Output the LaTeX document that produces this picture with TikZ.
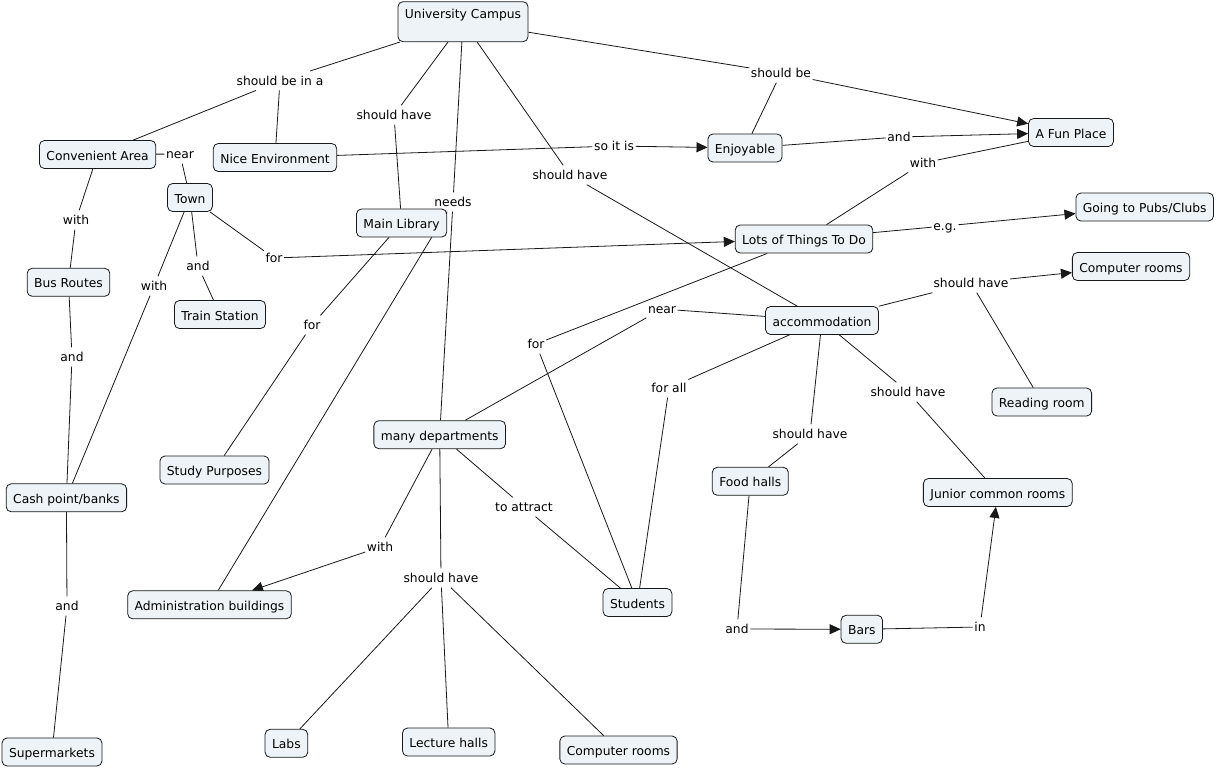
\documentclass[tikz,border=0pt]{standalone}
\usepackage{fontspec}
\setmainfont{DejaVu Sans}
\usetikzlibrary{arrows.meta}
\pgfdeclarelayer{bg}
\pgfsetlayers{bg,main}
\definecolor{cfill}{RGB}{237,243,246}
\tikzset{
 concept/.style={draw=black!90, fill=cfill, rounded corners=5pt, line width=0.8pt,
   inner xsep=7pt, inner ysep=0pt, minimum height=28pt, text height=12pt, text depth=1pt},
 lp/.style={inner xsep=1.5pt, inner ysep=3pt, text height=11pt, text depth=2pt},
 link/.style={line width=0.8pt, draw=black!90},
 arr/.style={link, -{Triangle[length=11pt,width=10pt]}},
}
\begin{document}
\begin{tikzpicture}[x=1pt,y=-1pt,font=\fontsize{12.3}{14}\selectfont]
\useasboundingbox (0,0) rectangle (1216,769);
% concepts
\node[concept, text height=12.6pt, text depth=19.4pt, inner ysep=4pt] (univ) at (463,21.7) {University Campus};
\node[concept] (conv) at (97.6,154.5) {Convenient Area};
\node[concept] (nice) at (275,157.5) {Nice Environment};
\node[concept] (town) at (190,197.5) {Town};
\node[concept] (lib) at (401.6,223) {Main Library};
\node[concept] (bus) at (68.5,282.3) {Bus Routes};
\node[concept] (train) at (220,314.5) {Train Station};
\node[concept] (enj) at (745,148) {Enjoyable};
\node[concept] (fun) at (1071,132.5) {A Fun Place};
\node[concept] (pubs) at (1144.7,207) {Going to Pubs/Clubs};
\node[concept] (lots) at (804,239) {Lots of Things To Do};
\node[concept] (comp1) at (1131,266.5) {Computer rooms};
\node[concept] (acc) at (822,320.5) {accommodation};
\node[concept] (read) at (1041.8,402) {Reading room};
\node[concept] (dept) at (439.7,434.7) {many departments};
\node[concept] (study) at (214.5,470) {Study Purposes};
\node[concept] (cash) at (66.4,497.8) {Cash point/banks};
\node[concept] (food) at (750.3,481.3) {Food halls};
\node[concept] (jcr) at (997.8,492.5) {Junior common rooms};
\node[concept] (stud) at (637.5,602.5) {Students};
\node[concept] (admin) at (209.5,604.8) {Administration buildings};
\node[concept] (bars) at (861.8,629.3) {Bars};
\node[concept] (labs) at (286.4,743.3) {Labs};
\node[concept] (lect) at (448.7,742) {Lecture halls};
\node[concept] (comp2) at (618.5,750) {Computer rooms};
\node[concept] (super) at (52,752) {Supermarkets};
% linking phrases
\node[lp] (l1) at (280,80.7) {should be in a};
\node[lp] (l2) at (394,115) {should have};
\node[lp] (l3) at (453,202) {needs};
\node[lp] (l4) at (570,175) {should have};
\node[lp] (l5) at (781,73) {should be};
\node[lp] (l6) at (614,146) {so it is};
\node[lp] (l7) at (899,137) {and};
\node[lp] (l8) at (923,163) {with};
\node[lp] (l9) at (945,226) {e.g.};
\node[lp] (l10) at (180,154) {near};
\node[lp] (l11) at (76,220) {with};
\node[lp] (l12) at (198,266) {and};
\node[lp] (l13) at (154,286) {with};
\node[lp] (l14) at (274,258) {for};
\node[lp] (l15) at (72,357) {and};
\node[lp] (l16) at (67,606) {and};
\node[lp] (l17) at (312,325) {for};
\node[lp] (l18) at (662,309) {near};
\node[lp] (l19) at (536,344) {for};
\node[lp] (l20) at (669,388) {for all};
\node[lp] (l21) at (810,434) {should have};
\node[lp] (l22) at (908,392) {should have};
\node[lp] (l23) at (971,283) {should have};
\node[lp] (l24) at (737,629) {and};
\node[lp] (l25) at (980,627) {in};
\node[lp] (l26) at (524,507) {to attract};
\node[lp] (l27) at (380,547) {with};
\node[lp] (l28) at (441,578) {should have};
% connectors
\begin{pgfonlayer}{bg}
\fill[white] (0,0) rectangle (1216,769);
\draw[link] (univ) -- (l1); \draw[link] (l1) -- (conv); \draw[link] (l1) -- (nice);
\draw[link] (univ) -- (l2); \draw[link] (l2) -- (lib);
\draw[link] (univ) -- (l3); \draw[link] (l3) -- (dept); \draw[link] (l3) -- (admin);
\draw[link] (univ) -- (l4); \draw[link] (l4) -- (acc);
\draw[link] (univ) -- (l5); \draw[arr] (l5) -- (fun); \draw[link] (enj) -- (l5);
\draw[link] (nice) -- (l6); \draw[arr] (l6) -- (enj);
\draw[link] (enj) -- (l7); \draw[arr] (l7) -- (fun);
\draw[link] (lots) -- (l8); \draw[link] (l8) -- (fun);
\draw[link] (lots) -- (l9); \draw[arr] (l9) -- (pubs);
\draw[link] (conv) -- (l10); \draw[link] (l10) -- (town);
\draw[link] (conv) -- (l11); \draw[link] (l11) -- (bus);
\draw[link] (town) -- (l12); \draw[link] (l12) -- (train);
\draw[link] (town) -- (l13); \draw[link] (l13) -- (cash);
\draw[link] (town) -- (l14); \draw[arr] (l14) -- (lots);
\draw[link] (bus) -- (l15); \draw[link] (l15) -- (cash);
\draw[link] (cash) -- (l16); \draw[link] (l16) -- (super);
\draw[link] (lib) -- (l17); \draw[link] (l17) -- (study);
\draw[link] (acc) -- (l18); \draw[link] (l18) -- (dept);
\draw[link] (lots) -- (l19); \draw[link] (l19) -- (stud);
\draw[link] (acc) -- (l20); \draw[link] (l20) -- (stud);
\draw[link] (acc) -- (l21); \draw[link] (l21) -- (food);
\draw[link] (acc) -- (l22); \draw[link] (l22) -- (jcr);
\draw[link] (acc) -- (l23); \draw[arr] (l23) -- (comp1); \draw[link] (l23) -- (read);
\draw[link] (food) -- (l24); \draw[arr] (l24) -- (bars);
\draw[link] (bars) -- (l25); \draw[arr] (l25) -- (jcr);
\draw[link] (dept) -- (l26); \draw[link] (l26) -- (stud);
\draw[link] (dept) -- (l27); \draw[arr] (l27) -- (admin);
\draw[link] (dept) -- (l28); \draw[link] (l28) -- (labs); \draw[link] (l28) -- (lect); \draw[link] (l28) -- (comp2);
\end{pgfonlayer}
\end{tikzpicture}
\end{document}
